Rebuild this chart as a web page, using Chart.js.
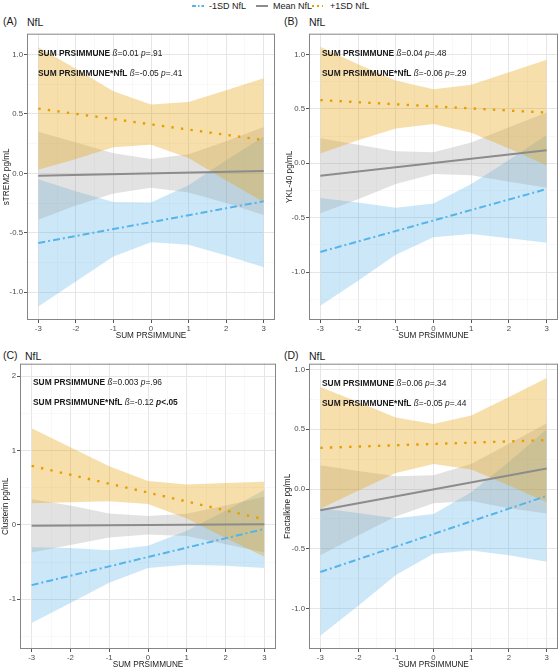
<!DOCTYPE html>
<html lang="en">
<head>
<meta charset="UTF-8">
<title>SUM PRSIMMUNE x NfL</title>
<script src="https://cdn.jsdelivr.net/npm/chart.js"></script>
<style>
  body { margin:0; width:560px; height:669px; overflow:hidden; background:#fff; position:relative;
         font-family:"Liberation Sans", Arial, sans-serif; color:#1a1a1a; }
  canvas { position:absolute; }
  .hdr { position:absolute; font-size:10.5px; line-height:12px; white-space:nowrap; }
  .note { position:absolute; font-size:8.4px; line-height:10px; white-space:nowrap; }
  .lg { position:absolute; font-size:9px; line-height:10px; white-space:nowrap; }
  svg.key { position:absolute; }
</style>
</head>
<body>
  <!-- legend -->
  <svg class="key" style="left:192px;top:1px" width="12" height="10"><line x1="0" y1="5" x2="12" y2="5" stroke="#56B4E9" stroke-width="2" stroke-dasharray="4 2 1.5 2"/></svg>
  <div class="lg" style="left:209px;top:1px">-1SD NfL</div>
  <svg class="key" style="left:256px;top:1px" width="12" height="10"><line x1="0" y1="5" x2="12" y2="5" stroke="#8c8c8c" stroke-width="2"/></svg>
  <div class="lg" style="left:273px;top:1px">Mean NfL</div>
  <svg class="key" style="left:311px;top:1px" width="12" height="10"><line x1="1" y1="5" x2="12" y2="5" stroke="#E69F00" stroke-width="2" stroke-dasharray="2 3"/></svg>
  <div class="lg" style="left:330px;top:1px">+1SD NfL</div>

  <div class="hdr" style="left:3px;top:15px">(A)</div>
  <div class="hdr" style="left:27px;top:16px">NfL</div>
  <div class="hdr" style="left:284px;top:15px">(B)</div>
  <div class="hdr" style="left:309px;top:16px">NfL</div>
  <div class="hdr" style="left:3px;top:349px">(C)</div>
  <div class="hdr" style="left:25px;top:350px">NfL</div>
  <div class="hdr" style="left:284px;top:349px">(D)</div>
  <div class="hdr" style="left:309px;top:350px">NfL</div>

  <canvas id="pA" width="280" height="313" style="left:0;top:28px"></canvas>
  <canvas id="pB" width="280" height="313" style="left:280px;top:28px"></canvas>
  <canvas id="pC" width="280" height="312" style="left:0;top:358px"></canvas>
  <canvas id="pD" width="280" height="312" style="left:280px;top:358px"></canvas>

  <div class="note" style="left:38px;top:48px"><b>SUM PRSIMMUNE</b> <i>ß</i>=0.01 <i>p</i>=.91</div>
  <div class="note" style="left:38px;top:68px"><b>SUM PRSIMMUNE*NfL</b> <i>ß</i>=-0.05 <i>p</i>=.41</div>
  <div class="note" style="left:322px;top:48px"><b>SUM PRSIMMUNE</b> <i>ß</i>=0.04 <i>p</i>=.48</div>
  <div class="note" style="left:322px;top:68px"><b>SUM PRSIMMUNE*NfL</b> <i>ß</i>=-0.06 <i>p</i>=.29</div>
  <div class="note" style="left:33px;top:377px"><b>SUM PRSIMMUNE</b> <i>ß</i>=0.003 <i>p</i>=.96</div>
  <div class="note" style="left:33px;top:397px"><b>SUM PRSIMMUNE*NfL</b> <i>ß</i>=-0.12 <b><i>p</i>&lt;.05</b></div>
  <div class="note" style="left:322px;top:378px"><b>SUM PRSIMMUNE</b> <i>ß</i>=0.06 <i>p</i>=.34</div>
  <div class="note" style="left:322px;top:398px"><b>SUM PRSIMMUNE*NfL</b> <i>ß</i>=-0.05 <i>p</i>=.44</div>

<script>
// x positions of the ribbon knots, and of the fitted line ends
const xPoints = [-3, -2, -1, 0, 1, 2, 3];
const xEnds = [-3, 3];
const xTickLabels = [-3, -2, -1, 0, 1, 2, 3];

// (A) sTREM2
const aLowLine = [-0.585, -0.235];
const aLowUpper = [-0.05, -0.15, -0.24, -0.245, -0.10, 0.11, 0.31];
const aLowLower = [-1.12, -0.91, -0.70, -0.58, -0.60, -0.69, -0.79];
const aMeanLine = [-0.02, 0.02];
const aMeanUpper = [0.35, 0.26, 0.17, 0.12, 0.16, 0.27, 0.39];
const aMeanLower = [-0.39, -0.27, -0.17, -0.12, -0.16, -0.25, -0.35];
const aHighLine = [0.545, 0.28];
const aHighUpper = [1.06, 0.88, 0.69, 0.58, 0.60, 0.70, 0.80];
const aHighLower = [0.03, 0.12, 0.22, 0.24, 0.13, -0.06, -0.24];
const aYTicks = [-1.0, -0.5, 0.0, 0.5, 1.0];

// (B) YKL-40
const bLowLine = [-0.815, -0.237];
const bLowUpper = [-0.32, -0.36, -0.41, -0.37, -0.19, 0.03, 0.26];
const bLowLower = [-1.31, -1.08, -0.84, -0.68, -0.65, -0.69, -0.73];
const bMeanLine = [-0.115, 0.12];
const bMeanUpper = [0.23, 0.17, 0.11, 0.10, 0.19, 0.33, 0.465];
const bMeanLower = [-0.46, -0.33, -0.19, -0.10, -0.11, -0.17, -0.225];
const bHighLine = [0.58, 0.465];
const bHighUpper = [1.07, 0.91, 0.76, 0.68, 0.72, 0.835, 0.95];
const bHighLower = [0.09, 0.21, 0.32, 0.36, 0.28, 0.135, -0.02];
const bYTicks = [-1.0, -0.5, 0.0, 0.5, 1.0];

// (C) Clusterin
const cLowLine = [-0.81, -0.054];
const cLowUpper = [-0.30, -0.31, -0.34, -0.28, -0.08, 0.19, 0.47];
const cLowLower = [-1.32, -1.05, -0.78, -0.58, -0.535, -0.55, -0.58];
const cMeanLine = [-0.01, 0.01];
const cMeanUpper = [0.345, 0.26, 0.155, 0.12, 0.15, 0.26, 0.38];
const cMeanLower = [-0.37, -0.27, -0.17, -0.13, -0.15, -0.26, -0.37];
const cHighLine = [0.795, 0.075];
const cHighUpper = [1.30, 1.045, 0.79, 0.59, 0.545, 0.565, 0.58];
const cHighLower = [0.29, 0.305, 0.32, 0.28, 0.085, -0.175, -0.43];
const cYTicks = [-1, 0, 1, 2];

// (D) Fractalkine
const dLowLine = [-0.695, -0.058];
const dLowUpper = [-0.16, -0.20, -0.245, -0.21, -0.027, 0.226, 0.50];
const dLowLower = [-1.23, -0.98, -0.72, -0.543, -0.515, -0.555, -0.61];
const dMeanLine = [-0.177, 0.172];
const dMeanUpper = [0.20, 0.15, 0.108, 0.116, 0.21, 0.38, 0.55];
const dMeanLower = [-0.555, -0.39, -0.23, -0.12, -0.10, -0.16, -0.205];
const dHighLine = [0.345, 0.41];
const dHighUpper = [0.855, 0.73, 0.60, 0.545, 0.615, 0.77, 0.93];
const dHighLower = [-0.165, -0.014, 0.134, 0.21, 0.163, 0.03, -0.11];
const dYTicks = [-1.0, -0.5, 0.0, 0.5, 1.0];

const BLUE = '#56B4E9', GREY = '#8c8c8c', ORANGE = '#E69F00';

const pts = (xs, ys) => xs.map((x, i) => ({ x: x, y: ys[i] }));

// draws the panel frame on top of the ribbons
const panelBorder = {
  id: 'panelBorder',
  afterDatasetsDraw(chart) {
    const { ctx, chartArea: a } = chart;
    ctx.save();
    ctx.strokeStyle = '#858585';
    ctx.lineWidth = 1;
    ctx.strokeRect(a.left + 0.5, a.top + 0.5, a.right - a.left - 1, a.bottom - a.top - 1);
    ctx.restore();
  }
};

// major ticks plus the minor ones half way between
function withMinor(major) {
  const step = major[1] - major[0];
  const out = [];
  for (let i = -1; i < major.length; i++) {
    const v = (i < 0 ? major[0] - step : major[i]);
    if (i >= 0) out.push(v);
    out.push(v + step / 2);
  }
  return out;
}

function makePanel(id, o) {
  const isMajor = (v, list) => list.some(t => Math.abs(t - v) < 1e-9);
  const xGrid = withMinor(xTickLabels).filter(v => v > -3.3 && v < 3.3);
  const yGrid = withMinor(o.yTicks).filter(v => v > o.yMin && v < o.yMax);
  const band = (up, lo, color) => [
    { data: pts(xPoints, up), borderWidth: 0, pointRadius: 0, fill: '+1', backgroundColor: color },
    { data: pts(xPoints, lo), borderWidth: 0, pointRadius: 0, fill: false }
  ];
  new Chart(document.getElementById(id), {
    type: 'line',
    data: {
      datasets: [
        { data: pts(xEnds, o.highLine), borderColor: ORANGE, borderWidth: 2.4, borderDash: [2.4, 7.2], pointRadius: 0, fill: false },
        { data: pts(xEnds, o.meanLine), borderColor: GREY, borderWidth: 2, pointRadius: 0, fill: false },
        { data: pts(xEnds, o.lowLine), borderColor: BLUE, borderWidth: 2, borderDash: [7, 3, 2, 3], pointRadius: 0, fill: false },
        ...band(o.highUpper, o.highLower, 'rgba(230,159,0,0.33)'),
        ...band(o.meanUpper, o.meanLower, 'rgba(150,150,150,0.28)'),
        ...band(o.lowUpper, o.lowLower, 'rgba(86,180,233,0.3)')
      ]
    },
    options: {
      responsive: false,
      animation: false,
      layout: { padding: { top: 4, right: o.padRight, left: 0, bottom: 0 } },
      plugins: { legend: { display: false }, tooltip: { enabled: false } },
      scales: {
        x: {
          type: 'linear', min: -3.3, max: 3.3,
          afterBuildTicks: s => { s.ticks = xGrid.map(v => ({ value: v })); },
          afterFit: s => { s.height = 21; },
          border: { display: false },
          grid: {
            color: c => isMajor(c.tick.value, xTickLabels) ? '#e6e6e6' : '#f3f3f3',
            lineWidth: c => isMajor(c.tick.value, xTickLabels) ? 1 : 0.6,
            tickLength: 3,
            tickColor: c => isMajor(c.tick.value, xTickLabels) ? '#555' : 'rgba(0,0,0,0)'
          },
          ticks: {
            autoSkip: false, maxRotation: 0, padding: 1, color: '#4d4d4d',
            font: { family: 'Liberation Sans', size: 7.8 },
            callback: v => isMajor(v, xTickLabels) ? String(Math.round(v)) : ''
          },
          title: { display: true, text: 'SUM PRSIMMUNE', color: '#1a1a1a',
                   font: { family: 'Liberation Sans', size: 8.2 }, padding: { top: 0, bottom: 0.6 } }
        },
        y: {
          type: 'linear', min: o.yMin, max: o.yMax,
          afterBuildTicks: s => { s.ticks = yGrid.map(v => ({ value: v })); },
          afterFit: s => { s.width = o.yWidth; },
          border: { display: false },
          grid: {
            color: c => isMajor(c.tick.value, o.yTicks) ? '#e6e6e6' : '#f3f3f3',
            lineWidth: c => isMajor(c.tick.value, o.yTicks) ? 1 : 0.6,
            tickLength: 3,
            tickColor: c => isMajor(c.tick.value, o.yTicks) ? '#555' : 'rgba(0,0,0,0)'
          },
          ticks: {
            autoSkip: false, padding: 1, color: '#4d4d4d',
            font: { family: 'Liberation Sans', size: 7.8 },
            callback: v => isMajor(v, o.yTicks) ? (o.decimals ? v.toFixed(1) : String(Math.round(v))) : ''
          },
          title: { display: true, text: o.yTitle, color: '#1a1a1a',
                   font: { family: 'Liberation Sans', size: 8.2 }, padding: { top: o.titlePad, bottom: 0 } }
        }
      }
    },
    plugins: [panelBorder]
  });
}

makePanel('pA', {
  lowLine: aLowLine, lowUpper: aLowUpper, lowLower: aLowLower,
  meanLine: aMeanLine, meanUpper: aMeanUpper, meanLower: aMeanLower,
  highLine: aHighLine, highUpper: aHighUpper, highLower: aHighLower,
  yTicks: aYTicks, yMin: -1.233, yMax: 1.175, decimals: true,
  yTitle: 'sTREM2 pg/mL', yWidth: 27, titlePad: 1.6, padRight: 5
});
makePanel('pB', {
  lowLine: bLowLine, lowUpper: bLowUpper, lowLower: bLowLower,
  meanLine: bMeanLine, meanUpper: bMeanUpper, meanLower: bMeanLower,
  highLine: bHighLine, highUpper: bHighUpper, highLower: bHighLower,
  yTicks: bYTicks, yMin: -1.44, yMax: 1.19, decimals: true,
  yTitle: 'YKL-40 pg/mL', yWidth: 29, titlePad: 4.6, padRight: 2
});
makePanel('pC', {
  lowLine: cLowLine, lowUpper: cLowUpper, lowLower: cLowLower,
  meanLine: cMeanLine, meanUpper: cMeanUpper, meanLower: cMeanLower,
  highLine: cHighLine, highUpper: cHighUpper, highLower: cHighLower,
  yTicks: cYTicks, yMin: -1.67, yMax: 2.17, decimals: false,
  yTitle: 'Clusterin pg/mL', yWidth: 20, titlePad: 0.6, padRight: 4
});
makePanel('pD', {
  lowLine: dLowLine, lowUpper: dLowUpper, lowLower: dLowLower,
  meanLine: dMeanLine, meanUpper: dMeanUpper, meanLower: dMeanLower,
  highLine: dHighLine, highUpper: dHighUpper, highLower: dHighLower,
  yTicks: dYTicks, yMin: -1.34, yMax: 1.05, decimals: true,
  yTitle: 'Fractalkine pg/mL', yWidth: 29, titlePad: 2.4, padRight: 2
});
</script>
</body>
</html>
